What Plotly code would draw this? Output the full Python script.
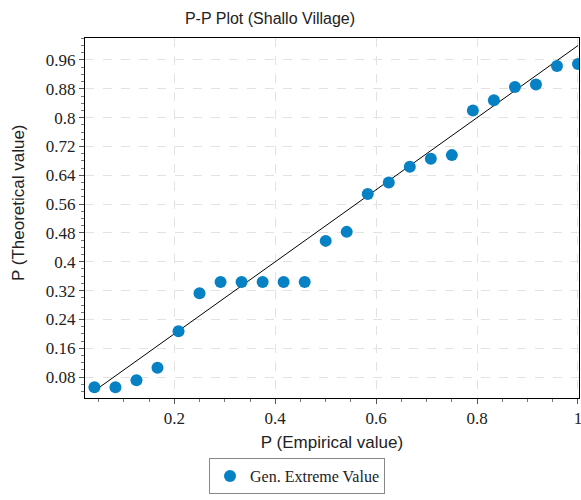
import plotly.graph_objects as go

n = 24
p_empirical = [i / n for i in range(1, n + 1)]
p_theoretical = [0.052, 0.052, 0.071, 0.106, 0.207, 0.313, 0.344, 0.344, 0.344, 0.344,
                 0.344, 0.458, 0.483, 0.588, 0.620, 0.664, 0.686, 0.696, 0.820, 0.848,
                 0.885, 0.892, 0.943, 0.949]
ref_line_x = [p_empirical[0], 1.0]
y_ticks = [0.08, 0.16, 0.24, 0.32, 0.4, 0.48, 0.56, 0.64, 0.72, 0.8, 0.88, 0.96]
y_tick_labels = ["0.08", "0.16", "0.24", "0.32", "0.4", "0.48", "0.56", "0.64", "0.72", "0.8", "0.88", "0.96"]
x_ticks = [0.2, 0.4, 0.6, 0.8, 1.0]
x_tick_labels = ["0.2", "0.4", "0.6", "0.8", "1"]

fig = go.Figure()
fig.add_trace(go.Scatter(x=ref_line_x, y=ref_line_x, mode="lines",
                         line=dict(color="black", width=1), showlegend=False, hoverinfo="skip"))
fig.add_trace(go.Scatter(x=p_empirical, y=p_theoretical, mode="markers",
                         name="Gen. Extreme Value",
                         marker=dict(color="#0681c4", size=12, line=dict(width=0))))

serif = "Liberation Serif"
sans = "Liberation Sans"

fig.update_layout(
    width=581, height=500,
    margin=dict(l=85, r=2, t=38, b=102, autoexpand=False),
    paper_bgcolor="white", plot_bgcolor="white",
    title=dict(text="P-P Plot (Shallo Village)", x=270/581, xanchor="center",
               y=1 - 18/500, yanchor="middle",
               font=dict(family=sans, size=16, color="#222")),
    xaxis=dict(range=[0.023, 1.002], tickmode="array", tickvals=x_ticks, ticktext=x_tick_labels,
               ticklabeloverflow="allow", automargin=False,
               showline=True, linecolor="black", linewidth=1, mirror=True,
               ticks="outside", ticklen=5, tickcolor="#555",
               minor=dict(dtick=0.05, tick0=0, ticks="outside", ticklen=3, tickcolor="#777", showgrid=False),
               showgrid=True, gridcolor="#e2e2e2", griddash="dash", gridwidth=1,
               zeroline=False,
               tickfont=dict(family=serif, size=17, color="#222"),
               title=dict(text="P (Empirical value)", font=dict(family=sans, size=17, color="#222"),
                          standoff=8)),
    yaxis=dict(range=[0.022, 1.021], tickmode="array", tickvals=y_ticks, ticktext=y_tick_labels,
               automargin=False,
               showline=True, linecolor="black", linewidth=1, mirror=True,
               ticks="outside", ticklen=5, tickcolor="#555",
               minor=dict(dtick=0.02, tick0=0, ticks="outside", ticklen=3, tickcolor="#777", showgrid=False),
               showgrid=True, gridcolor="#e2e2e2", griddash="dash", gridwidth=1,
               zeroline=False,
               tickfont=dict(family=serif, size=17, color="#222"),
               title=dict(text="")),
    legend=dict(orientation="h", x=(297-85)/494, xanchor="center", y=-(458-398)/360, yanchor="top",
                bordercolor="#888", borderwidth=1, bgcolor="white",
                font=dict(family=serif, size=16, color="#222")),
    annotations=[dict(text="P (Theoretical value)", textangle=-90, xref="paper", yref="paper",
                      x=-85/494 + 18/494, xanchor="center", y=(398-203)/360, yanchor="middle",
                      showarrow=False, font=dict(family=sans, size=17, color="#222"))],
)

fig.write_html("out.html")
